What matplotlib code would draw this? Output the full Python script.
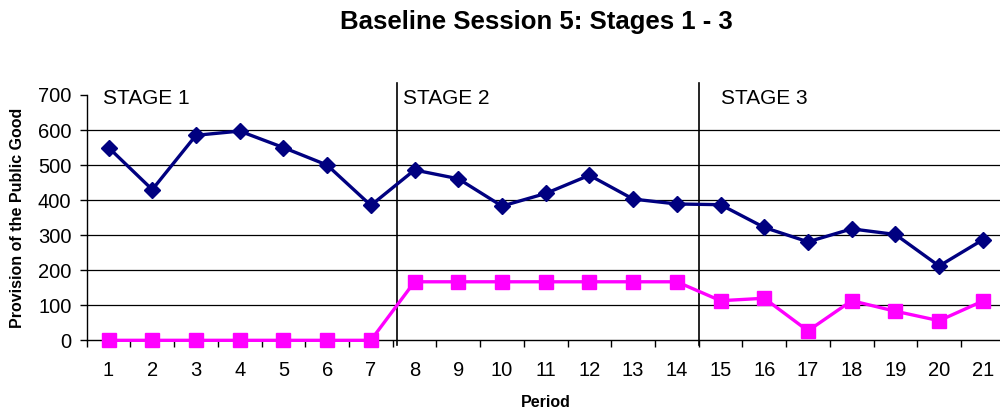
import matplotlib
matplotlib.use("Agg")
import matplotlib.pyplot as plt
import numpy as np

plt.rcParams['font.family'] = ['Liberation Sans', 'DejaVu Sans']

periods = list(range(1, 22))
total_provision = [550, 430, 585, 597, 550, 500, 385,
                   486, 461, 383, 419, 471, 403, 389,
                   387, 322, 281, 318, 302, 212, 287]
public_provision = [0, 0, 0, 0, 0, 0, 0,
                    167, 167, 167, 167, 167, 167, 167,
                    113, 120, 27, 113, 83, 56, 112]
stage_labels = ["STAGE 1", "STAGE 2", "STAGE 3"]
stage_breaks = [7.6, 14.5]

fig = plt.figure(figsize=(10, 4.13), dpi=100)
ax = fig.add_axes([0.0867, 0.176, 0.918, 0.594])

ax.set_xlim(0.5, 21.5)
ax.set_ylim(0, 700)

for y in range(100, 700, 100):
    ax.axhline(y, color='black', lw=0.9, zorder=1)

ax.plot(periods, total_provision, color='#000080', lw=2.4, marker='D',
        markersize=8.5, zorder=3, clip_on=False)
ax.plot(periods, public_provision, color='#FF00FF', lw=2.4, marker='s',
        markersize=10.5, zorder=3, clip_on=False)

for xb in stage_breaks:
    ax.plot([xb, xb], [-13, 735], color='black', lw=1.2, clip_on=False, zorder=2)

stage_x = [0.87, 7.74, 15.0]
for sx, lab in zip(stage_x, stage_labels):
    ax.text(sx, 690, lab, fontsize=15, ha='left', va='center')

ax.spines['top'].set_visible(False)
ax.spines['right'].set_visible(False)
ax.spines['left'].set_linewidth(1.0)
ax.spines['bottom'].set_linewidth(1.0)

ax.set_yticks(range(0, 800, 100))
ax.tick_params(axis='y', direction='out', length=5, width=1, labelsize=14.5, pad=6)
ax.set_xticks(periods)
ax.set_xticks(np.arange(0.5, 22, 1), minor=True)
ax.tick_params(axis='x', which='major', length=0, labelsize=14.5, pad=15)
ax.tick_params(axis='x', which='minor', direction='out', length=5, width=1)

ax.set_xlabel("Period", fontsize=11.5, fontweight='bold', labelpad=11)
ax.set_ylabel("Provision of the Public Good", fontsize=11.5, fontweight='bold', labelpad=9)

fig.suptitle("Baseline Session 5: Stages 1 - 3", x=0.536, y=0.947, va='center',
             fontsize=18.5, fontweight='bold')

fig.savefig("out.png", dpi=100)
